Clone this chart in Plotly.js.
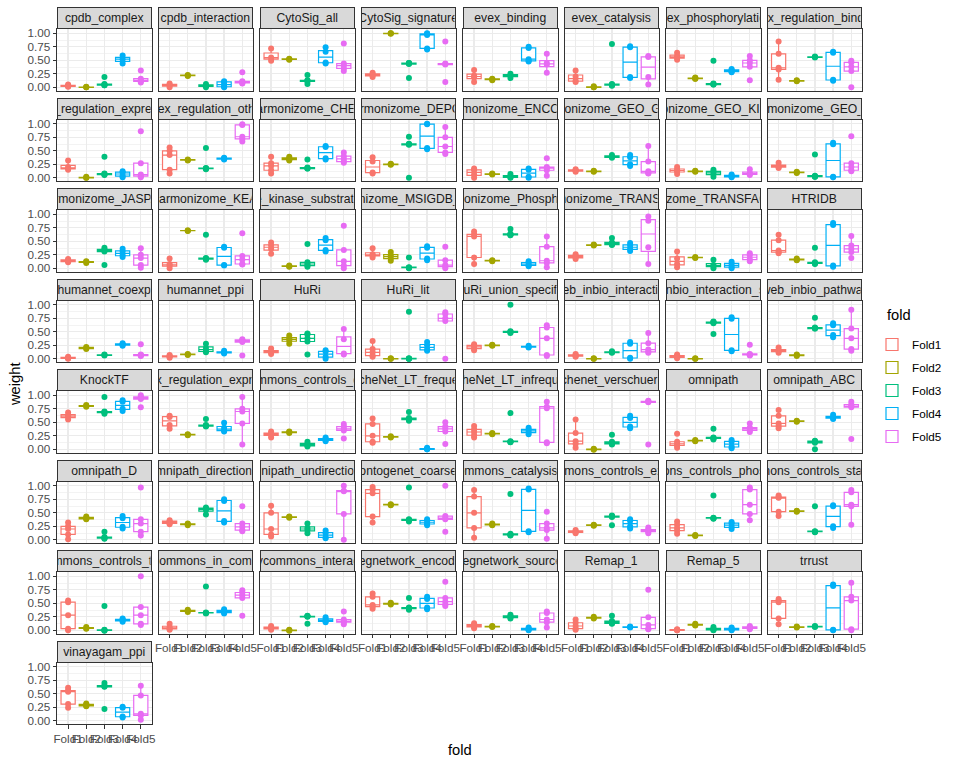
<!DOCTYPE html>
<html><head><meta charset="utf-8">
<script src="https://cdn.plot.ly/plotly-3.0.1.min.js"></script>
<style>html,body{margin:0;padding:0;background:#fff}</style>
</head><body><div id="chart" style="width:960px;height:768px"></div>
<script>
const datasets = ["cpdb_complex","cpdb_interaction","CytoSig_all","CytoSig_signature","evex_binding","evex_catalysis","evex_phosphorylation","evex_regulation_binding",
"evex_regulation_expression","evex_regulation_other","harmonizome_CHEA","harmonizome_DEPOD","harmonizome_ENCODE","harmonizome_GEO_GENE","harmonizome_GEO_KINASE","harmonizome_GEO_TF",
"harmonizome_JASPAR","harmonizome_KEA","harmonizome_kinase_substrate_predictions","harmonizome_MSIGDB_motifs","harmonizome_Phosphosite","harmonizome_TRANSFAC","harmonizome_TRANSFAC_PWM","HTRIDB",
"humannet_coexp","humannet_ppi","HuRi","HuRi_lit","HuRi_union_specific","iweb_inbio_interaction","iweb_inbio_interaction_scored","iweb_inbio_pathway",
"KnockTF","lr_evex_regulation_expression","lr_pathwaycommons_controls_expression_of","NicheNet_LT_frequent","NicheNet_LT_infrequent","nichenet_verschueren","omnipath","omnipath_ABC",
"omnipath_D","omnipath_directional","omnipath_undirectional","ontogenet_coarse","pathwaycommons_catalysis_precedes","pathwaycommons_controls_expression_of","pathwaycommons_controls_phosphorylation_of","pathwaycommons_controls_state_change_of",
"pathwaycommons_controls_transport_of","pathwaycommons_in_complex_with","pathwaycommons_interacts_with","regnetwork_encode","regnetwork_source","Remap_1","Remap_5","trrust",
"vinayagam_ppi"];
const foldNames = ["Fold1","Fold2","Fold3","Fold4","Fold5"];

const fold1 = [
[0.05,0.03,0.02,0.01],[0.07,0.04,0.0],[0.72,0.55,0.49],[0.27,0.24,0.22,0.19],[0.32,0.22,0.18,0.10],[0.31,0.20,0.12,0.10],[0.64,0.58,0.55,0.51],[0.85,0.62,0.36,0.33,0.14],
[0.32,0.20,0.17,0.15],[0.56,0.50,0.42,0.15,0.08],[0.39,0.27,0.22,0.14,0.08],[0.38,0.30,0.10,0.08],[0.17,0.14,0.06,0.0],[0.16,0.14,0.13,0.11],[0.20,0.15,0.12,0.07],[0.28,0.22,0.20,0.18],
[0.17,0.15,0.13,0.11],[0.18,0.08,0.05,0.0],[0.48,0.42,0.36,0.27],[0.37,0.26,0.24,0.20],[0.68,0.63,0.59,0.20,0.08],[0.26,0.23,0.20,0.17],[0.31,0.18,0.08,0.02],[0.62,0.52,0.33,0.30,0.28],
[0.04,0.02,0.01,0.0],[0.07,0.05,0.04,0.02],[0.19,0.14,0.12,0.09],[0.33,0.18,0.12,0.06,0.04],[0.27,0.24,0.20,0.16],[0.09,0.07,0.05,0.04],[0.08,0.05,0.03,0.01],[0.21,0.16,0.14,0.11],
[0.68,0.63,0.60,0.55],[0.62,0.60,0.45,0.38],[0.33,0.29,0.27,0.22],[0.57,0.47,0.25,0.14,0.12],[0.43,0.37,0.32,0.26,0.22],[0.55,0.30,0.15,0.10,0.03],[0.29,0.14,0.10,0.07,0.03],[0.73,0.62,0.48,0.43,0.39],
[0.32,0.25,0.20,0.10,0.01],[0.36,0.34,0.31,0.29],[0.63,0.50,0.20,0.10,0.06],[0.98,0.93,0.86,0.43,0.32],[0.92,0.80,0.50,0.22,0.04],[0.18,0.16,0.14,0.12],[0.34,0.28,0.22,0.17,0.11],[0.82,0.79,0.78,0.52,0.44],
[0.55,0.52,0.28,0.03,0.0],[0.12,0.06,0.03,0.01],[0.08,0.05,0.03,0.01],[0.68,0.62,0.47,0.44,0.40],[0.13,0.10,0.07,0.04],[0.20,0.14,0.08,0.03,0.01],[0.02,0.01,0.0,0.0],[0.58,0.55,0.52,0.22,0.11],
[0.61,0.56,0.54,0.31,0.24]];

const fold2 = [
[0.01,0.0,0.0],[0.23,0.22,0.21],[0.53,0.52,0.51],[1.0,1.0,0.99],[0.16,0.15,0.13],[0.02,0.0,0.0],[0.18,0.17,0.16,0.16],[0.13,0.12,0.11],
[0.02,0.0,0.0],[0.34,0.33,0.32],[0.39,0.36,0.34,0.32],[0.26,0.25,0.24],[0.08,0.07,0.06],[0.13,0.12,0.11],[0.13,0.12,0.11],[0.11,0.10,0.09],
[0.13,0.12,0.10],[0.70,0.70,0.69],[0.05,0.04,0.03],[0.30,0.24,0.19,0.14],[0.15,0.14,0.13],[0.44,0.43,0.42],[0.21,0.20,0.19],[0.18,0.16,0.15],
[0.22,0.20,0.18],[0.09,0.08,0.07],[0.43,0.38,0.34,0.28],[0.01,0.0,0.0],[0.26,0.25,0.24],[0.01,0.0,0.0],[0.01,0.0,0.0],[0.08,0.07,0.05],
[0.82,0.80,0.79],[0.28,0.27,0.26],[0.33,0.32,0.30],[0.24,0.23,0.22],[0.30,0.29,0.28],[0.01,0.0,-0.01],[0.17,0.16,0.15],[0.53,0.52,0.51],
[0.43,0.41,0.39,0.38],[0.30,0.29,0.27],[0.43,0.42,0.41],[0.66,0.65,0.64],[0.30,0.28,0.27],[0.28,0.27,0.26],[0.09,0.08,0.07],[0.54,0.53,0.52],
[0.06,0.04,0.03],[0.38,0.36,0.34],[0.01,0.0,-0.01],[0.51,0.49,0.48],[0.08,0.07,0.06],[0.25,0.23,0.22],[0.12,0.10,0.09],[0.07,0.06,0.05],
[0.32,0.30,0.28,0.27]];

const fold3 = [
[0.19,0.06,0.05,0.04,0.04],[0.06,0.03,0.0],[0.23,0.13,0.12,0.11,0.06],[0.45,0.45,0.44,0.43,0.17],[0.25,0.22,0.17],[0.80,0.06,0.05,0.04,0.03],[0.49,0.07,0.06,0.05,0.05],[0.57,0.56,0.55],
[0.39,0.08,0.07,0.06,0.05],[0.55,0.18,0.17,0.17,0.16],[0.34,0.19,0.18,0.17,0.17],[0.76,0.63,0.62,0.61,0.0],[0.07,0.03,0.01,0.0],[0.42,0.39,0.37],[0.15,0.11,0.07,0.02],[0.43,0.04,0.03,0.02,0.02],
[0.38,0.35,0.33,0.31,0.06],[0.62,0.19,0.18,0.17,0.16],[0.45,0.11,0.08,0.05,0.03],[0.20,0.02,0.01,0.01,0.0],[0.73,0.64,0.63,0.62,0.61],[0.56,0.48,0.46,0.44,0.43],[0.16,0.06,0.04,0.0],[0.38,0.11,0.10,0.09,0.08],
[0.08,0.07,0.06],[0.28,0.20,0.14,0.12],[0.47,0.45,0.38,0.32,0.08],[0.87,0.01,0.0,0.0,0.0],[1.0,0.51,0.50,0.49,0.48],[0.14,0.12,0.11],[0.69,0.68,0.67,0.66,0.46],[0.76,0.58,0.57,0.56,0.56],
[0.97,0.70,0.69,0.68,0.66],[0.56,0.45,0.44,0.43,0.42],[0.14,0.10,0.07,0.05],[0.69,0.58,0.56,0.55,0.53],[0.67,0.15,0.14,0.14,0.13],[0.27,0.14,0.12,0.10,0.09],[0.38,0.22,0.21,0.20,0.18],[0.16,0.15,0.14,0.12,0.0],
[0.15,0.05,0.04,0.03,0.02],[0.60,0.58,0.55,0.47],[0.30,0.22,0.18,0.12],[0.97,0.38,0.37,0.36,0.34],[0.85,0.11,0.10,0.09,0.08],[0.45,0.44,0.43,0.42,0.27],[0.82,0.41,0.40,0.40,0.39],[0.62,0.16,0.15,0.15,0.14],
[0.45,0.01,0.0,0.0,-0.01],[0.81,0.33,0.32,0.32,0.31],[0.27,0.26,0.26,0.25,0.12],[0.60,0.42,0.41,0.40,0.38],[0.29,0.26,0.24,0.22],[0.27,0.17,0.15,0.13,0.12],[0.06,0.03,0.01,0.0],[0.08,0.07,0.06],
[0.70,0.65,0.64,0.63,0.22]];

const fold4 = [
[0.59,0.52,0.44],[0.11,0.10,0.05,0.01,0.0],[0.74,0.66,0.46,0.44],[1.0,0.99,0.97,0.72,0.70],[0.75,0.73,0.52,0.49,0.48],[0.76,0.74,0.19,0.17],[0.34,0.32,0.29,0.28],[0.66,0.64,0.14,0.12],
[0.12,0.10,0.04,0.01],[0.37,0.36,0.35,0.34],[0.59,0.57,0.36,0.34],[1.0,0.99,0.55,0.53],[0.17,0.15,0.02,0.0],[0.42,0.38,0.25,0.22],[0.06,0.04,0.02,0.01],[0.65,0.62,0.02,0.01],
[0.36,0.31,0.24,0.21],[0.40,0.38,0.06,0.05],[0.56,0.52,0.34,0.31],[0.41,0.38,0.18,0.15],[0.13,0.10,0.06,0.04],[0.47,0.42,0.36,0.32],[0.12,0.08,0.03,0.0],[0.84,0.80,0.05,0.03],
[0.29,0.27,0.26,0.24],[0.15,0.12,0.11,0.10],[0.16,0.13,0.04,0.0],[0.31,0.25,0.17,0.15],[0.24,0.22,0.21],[0.31,0.28,0.02,0.0],[0.77,0.74,0.16,0.14],[0.66,0.62,0.44,0.40],
[0.91,0.88,0.75,0.71],[0.49,0.40,0.35,0.33],[0.22,0.19,0.17,0.15],[0.03,0.01,0.0,0.0],[0.40,0.36,0.32,0.28],[0.62,0.58,0.42,0.39],[0.17,0.14,0.05,0.02],[0.64,0.60,0.58,0.56],
[0.44,0.40,0.24,0.21],[0.75,0.72,0.35,0.32],[0.17,0.12,0.05,0.03],[0.38,0.35,0.30,0.27],[0.95,0.93,0.16,0.14],[0.38,0.35,0.25,0.21],[0.33,0.30,0.24,0.20],[0.64,0.62,0.25,0.22],
[0.22,0.20,0.18,0.16],[0.39,0.36,0.33,0.31],[0.24,0.20,0.17,0.15],[0.62,0.58,0.42,0.39],[0.05,0.03,0.01,0.0],[0.07,0.06,0.05],[0.05,0.03,0.01,0.0],[0.85,0.82,0.01,0.0],
[0.26,0.24,0.08,0.06]];

const fold5 = [
[0.31,0.16,0.13,0.11,0.09],[0.28,0.11,0.10,0.08,0.07],[0.81,0.44,0.40,0.35,0.30],[0.85,0.44,0.43,0.42,0.10],[0.62,0.45,0.42,0.27],[0.58,0.56,0.19,0.05],[0.58,0.50,0.45,0.38,0.13],[0.49,0.46,0.38,0.30,0.0],
[0.86,0.27,0.06,0.03,0.01],[0.99,0.98,0.76,0.72,0.67],[0.47,0.40,0.35,0.30,0.28],[0.94,0.75,0.58,0.47,0.44],[0.36,0.20,0.18,0.14,0.04],[0.59,0.30,0.12,0.09,0.08],[0.16,0.09,0.07,0.05],[0.77,0.27,0.20,0.14,0.12],
[0.37,0.25,0.19,0.06,0.01],[0.65,0.23,0.16,0.08,0.07],[0.79,0.34,0.13,0.05,0.0],[0.40,0.15,0.06,0.03,0.0],[0.59,0.40,0.14,0.10,0.02],[0.96,0.88,0.39,0.08],[0.28,0.24,0.17,0.13],[0.60,0.42,0.36,0.30,0.19],
[0.27,0.08,0.07,0.06,0.05],[0.36,0.35,0.33,0.31,0.06],[0.55,0.36,0.10,0.08],[0.86,0.83,0.75,0.70,0.0],[0.62,0.58,0.38,0.07,0.05],[0.48,0.29,0.17,0.13,0.11],[0.26,0.09,0.08,0.07,0.06],[0.91,0.56,0.38,0.18,0.15],
[1.0,0.97,0.95,0.93,0.78],[0.97,0.75,0.70,0.48,0.09],[0.47,0.42,0.38,0.35,0.20],[0.50,0.42,0.38,0.33,0.10],[0.88,0.79,0.76,0.13,0.11],[0.90,0.89,0.88,0.87,0.09],[0.48,0.40,0.38,0.35,0.32],[0.88,0.83,0.80,0.78,0.19],
[0.97,0.38,0.30,0.15,0.08],[0.62,0.30,0.24,0.18,0.16],[1.0,0.91,0.90,0.48,0.0],[1.0,0.44,0.40,0.38,0.15],[0.52,0.30,0.22,0.18,0.02],[0.23,0.19,0.17,0.15,0.12],[0.97,0.93,0.65,0.48,0.36],[0.92,0.88,0.65,0.62,0.28],
[1.0,0.43,0.28,0.12,0.10],[0.74,0.70,0.65,0.60,0.27],[0.35,0.20,0.17,0.15,0.11],[0.90,0.60,0.53,0.48,0.45],[0.35,0.32,0.20,0.15,0.05],[0.75,0.24,0.10,0.03,0.02],[0.08,0.06,0.04,0.02],[0.88,0.62,0.55,0.02,0.0],
[0.65,0.47,0.13,0.10,0.02]];

const yTickVals = [0, 0.25, 0.5, 0.75, 1];
const yTickText = ["0.00", "0.25", "0.50", "0.75", "1.00"];

// ---- styling / geometry ----
const folds = [fold1, fold2, fold3, fold4, fold5];
const foldColors = ["#F8766D", "#A3A500", "#00BF7D", "#00B0F6", "#E76BF3"];
const W = 960, H = 768, NCOL = 8;
const PX0 = 57.2, PW = 94.5, PSTEP = 101.5;
const ST0 = 7.3, RSTEP = 90.5, STRIP_H = 22, PANEL_BOT = 83.4;
const FONT = "Liberation Sans, Arial, sans-serif";
const N = datasets.length;

// R type-7 quantile and ggplot-style box statistics
function q7(sorted, p) {
  const h = (sorted.length - 1) * p, lo = Math.floor(h);
  const hi = Math.min(lo + 1, sorted.length - 1);
  return sorted[lo] + (h - lo) * (sorted[hi] - sorted[lo]);
}
function boxStats(vals) {
  const s = vals.slice().sort((a, b) => a - b);
  const q1 = q7(s, 0.25), med = q7(s, 0.5), q3 = q7(s, 0.75);
  const iqr = q3 - q1;
  const inside = s.filter(v => v >= q1 - 1.5 * iqr - 1e-9 && v <= q3 + 1.5 * iqr + 1e-9);
  return {q1, med, q3, lo: Math.min(...inside), hi: Math.max(...inside)};
}

const boxTraces = [], pointTraces = [];
const layout = {
  width: W, height: H,
  margin: {l: 0, r: 0, t: 0, b: 0},
  paper_bgcolor: "#ffffff", plot_bgcolor: "#ffffff",
  font: {family: FONT, color: "#1A1A1A"},
  showlegend: true,
  boxmode: "overlay",
  legend: {
    x: 872 / W, xanchor: "left", y: 1 - 330 / H, yanchor: "top",
    font: {size: 11.7, color: "#000000"},
    tracegroupgap: 4, bgcolor: "rgba(0,0,0,0)", traceorder: "grouped"
  },
  annotations: []
};

for (let i = 0; i < N; i++) {
  const r = Math.floor(i / NCOL), c = i % NCOL;
  const x0 = PX0 + PSTEP * c, x1 = x0 + PW;
  const st = ST0 + RSTEP * r;
  const pt = st + STRIP_H, pb = st + PANEL_BOT;
  const sfx = i === 0 ? "" : String(i + 1);
  const bottomOfCol = (i + NCOL) >= N;
  const firstCol = c === 0;

  layout["xaxis" + sfx] = {
    domain: [x0 / W, x1 / W], anchor: "y" + sfx,
    type: "category", categoryorder: "array", categoryarray: foldNames,
    range: [-0.6, 4.6], fixedrange: true,
    showgrid: true, gridcolor: "#EBEBEB", gridwidth: 1.3,
    zeroline: false, showline: true, mirror: true, linecolor: "#333333", linewidth: 1,
    ticks: bottomOfCol ? "outside" : "", ticklen: 3.7, tickcolor: "#333333", tickwidth: 1,
    showticklabels: bottomOfCol, tickangle: 0,
    tickfont: {size: 11.7, color: "#4D4D4D", family: FONT}
  };
  layout["yaxis" + sfx] = {
    domain: [1 - pb / H, 1 - pt / H], anchor: "x" + sfx,
    range: [-0.063, 1.074], fixedrange: true,
    tickmode: "array", tickvals: yTickVals, ticktext: yTickText,
    showgrid: true, gridcolor: "#EBEBEB", gridwidth: 1.3,
    minor: {tickmode: "array", tickvals: [0.125, 0.375, 0.625, 0.875], showgrid: true, gridcolor: "#EBEBEB", gridwidth: 0.6, ticks: ""},
    zeroline: false, showline: true, mirror: true, linecolor: "#333333", linewidth: 1,
    ticks: firstCol ? "outside" : "", ticklen: 3.7, tickcolor: "#333333", tickwidth: 1,
    showticklabels: firstCol,
    tickfont: {size: 11.7, color: "#4D4D4D", family: FONT}
  };

  // strip label
  layout.annotations.push({
    xref: "paper", yref: "paper",
    x: (x0 + x1) / 2 / W, y: 1 - (st + STRIP_H / 2) / H,
    xanchor: "center", yanchor: "middle",
    text: datasets[i], showarrow: false,
    width: PW - 2, height: STRIP_H - 2,
    bgcolor: "#D9D9D9", bordercolor: "#333333", borderwidth: 1, borderpad: 0,
    font: {size: 12.2, color: "#1A1A1A", family: FONT}
  });

  for (let f = 0; f < 5; f++) {
    const vals = folds[f][i];
    const s = boxStats(vals);
    boxTraces.push({
      type: "box",
      x: [foldNames[f]],
      q1: [s.q1], median: [s.med], q3: [s.q3],
      lowerfence: [s.lo], upperfence: [s.hi],
      name: foldNames[f],
      legendgroup: foldNames[f],
      showlegend: i === 0,
      xaxis: "x" + sfx, yaxis: "y" + sfx,
      boxpoints: false,
      width: 0.78, whiskerwidth: 0,
      fillcolor: "#ffffff",
      line: {color: foldColors[f], width: 1.2},
      hoverinfo: "skip"
    });
    pointTraces.push({
      type: "scatter", mode: "markers",
      x: vals.map(() => foldNames[f]),
      y: vals,
      name: foldNames[f],
      legendgroup: foldNames[f],
      showlegend: false,
      xaxis: "x" + sfx, yaxis: "y" + sfx,
      marker: {color: foldColors[f], size: 6},
      cliponaxis: false,
      hoverinfo: "skip"
    });
  }
}

layout.annotations.push({
  xref: "paper", yref: "paper", x: 885 / W, y: 1 - 315 / H,
  text: "fold", showarrow: false,
  xanchor: "left", yanchor: "middle",
  font: {size: 14.7, color: "#000000", family: FONT}
});
layout.annotations.push({
  xref: "paper", yref: "paper", x: 15 / W, y: 1 - 385 / H,
  text: "weight", showarrow: false, textangle: -90,
  xanchor: "center", yanchor: "middle",
  font: {size: 14.7, color: "#000000", family: FONT}
});
layout.annotations.push({
  xref: "paper", yref: "paper", x: 460 / W, y: 1 - 750 / H,
  text: "fold", showarrow: false,
  xanchor: "center", yanchor: "middle",
  font: {size: 14.7, color: "#000000", family: FONT}
});

Plotly.newPlot("chart", boxTraces.concat(pointTraces), layout, {staticPlot: true, displayModeBar: false});
</script>
</body></html>
